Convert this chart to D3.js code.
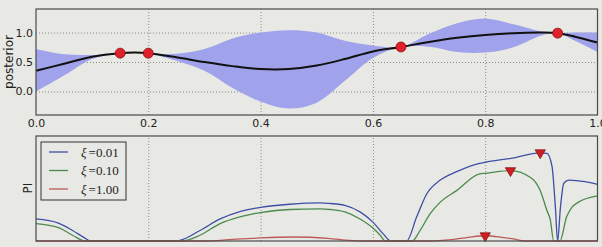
<!DOCTYPE html>
<html>
<head>
<meta charset="utf-8">
<script src="https://cdn.jsdelivr.net/npm/d3@7"></script>
<style>
body { margin: 0; background: #e8e9e4; }
svg { display: block; font-family: "DejaVu Sans", sans-serif; }
</style>
</head>
<body>
<div id="chart"></div>
<script>
// top panel: GP posterior
var postX     = [0, 0.05, 0.1, 0.15, 0.175, 0.2, 0.25, 0.3, 0.35, 0.4, 0.45, 0.5, 0.55, 0.6, 0.65, 0.7, 0.75, 0.8, 0.85, 0.9, 0.929, 0.96, 1.0];
var postMean  = [0.35, 0.47, 0.59, 0.65, 0.66, 0.65, 0.58, 0.50, 0.43, 0.38, 0.38, 0.44, 0.55, 0.68, 0.755, 0.84, 0.91, 0.96, 0.99, 1.0, 0.99, 0.93, 0.83];
var postLower = [0.0, 0.27, 0.55, 0.65, 0.655, 0.65, 0.52, 0.35, 0.06, -0.17, -0.29, -0.19, 0.18, 0.57, 0.755, 0.76, 0.67, 0.66, 0.75, 0.95, 0.99, 0.86, 0.67];
var postUpper = [0.72, 0.63, 0.62, 0.65, 0.67, 0.65, 0.64, 0.72, 0.90, 1.00, 1.04, 1.00, 0.86, 0.78, 0.755, 0.98, 1.16, 1.24, 1.14, 1.02, 0.99, 1.00, 1.00];
var obsX = [0.15, 0.2, 0.65, 0.929];
var obsY = [0.65, 0.65, 0.755, 0.99];

// bottom panel: probability of improvement for three xi values
var xiLabels = ["0.01", "0.10", "1.00"];
var piX1 = [0, 0.04, 0.065, 0.085, 0.097, 0.25, 0.256, 0.292, 0.328, 0.363, 0.4, 0.452, 0.506, 0.524, 0.55, 0.577, 0.6, 0.618, 0.632, 0.66, 0.678, 0.696, 0.72, 0.749, 0.79, 0.8, 0.848, 0.898, 0.91, 0.919, 0.925, 0.929, 0.934, 0.94, 0.949, 0.978, 1.0];
var piY1 = [0.21, 0.17, 0.10, 0.035, 0, 0, 0.005, 0.10, 0.21, 0.28, 0.32, 0.35, 0.363, 0.357, 0.34, 0.277, 0.18, 0.07, 0, 0, 0.23, 0.45, 0.58, 0.66, 0.74, 0.75, 0.79, 0.84, 0.835, 0.71, 0.32, 0, 0.32, 0.55, 0.58, 0.565, 0.54];
var piX2 = [0, 0.04, 0.065, 0.087, 0.26, 0.292, 0.328, 0.363, 0.4, 0.452, 0.506, 0.524, 0.55, 0.577, 0.6, 0.613, 0.622, 0.67, 0.684, 0.702, 0.72, 0.749, 0.79, 0.8, 0.845, 0.882, 0.898, 0.91, 0.916, 0.922, 0.933, 0.945, 0.955, 0.966, 1.0];
var piY2 = [0.166, 0.128, 0.055, 0, 0, 0.055, 0.166, 0.23, 0.27, 0.30, 0.306, 0.30, 0.277, 0.21, 0.124, 0.055, 0, 0, 0.10, 0.26, 0.37, 0.48, 0.64, 0.645, 0.67, 0.60, 0.48, 0.29, 0.20, 0, 0, 0.23, 0.325, 0.37, 0.43];
var piX3 = [0, 0.3, 0.35, 0.4, 0.46, 0.52, 0.56, 0.58, 0.7, 0.74, 0.77, 0.8, 0.83, 0.85, 0.87, 1.0];
var piY3 = [0, 0, 0.015, 0.03, 0.038, 0.025, 0.005, 0, 0, 0.013, 0.035, 0.05, 0.035, 0.02, 0, 0];

var xTicks = [0, 0.2, 0.4, 0.6, 0.8, 1.0];
var yTicks = [0, 0.5, 1.0];

var W = 602, H = 247;
var left = 36, right = 597.5;
var top1 = 9, bot1 = 115;
var top2 = 136, bot2 = 241;

var bg = "#e8e9e4";
var lineColors = ["#3f4ea6", "#4a8a4c", "#bb5a5a"];

var svg = d3.select("#chart").append("svg")
  .attr("width", W)
  .attr("height", H);

svg.append("rect").attr("width", W).attr("height", H).attr("fill", bg);

var x = d3.scaleLinear().domain([0, 1]).range([left, right]);
var y1 = d3.scaleLinear().domain([-0.4, 1.4]).range([bot1, top1]);
var y2 = d3.scaleLinear().domain([0, 1]).range([bot2, top2]);

function styleGrid(g) {
  g.select(".domain").remove();
  g.selectAll(".tick line")
   .attr("stroke", "#8a8a8a")
   .attr("stroke-width", 1)
   .attr("stroke-dasharray", "1,2");
}

// ----- top panel -----
var topG = svg.append("g");

topG.append("g")
  .attr("transform", "translate(0," + bot1 + ")")
  .call(d3.axisBottom(x).tickValues([0.2, 0.4, 0.6, 0.8]).tickSize(-(bot1 - top1)).tickFormat(""))
  .call(styleGrid);

topG.append("g")
  .attr("transform", "translate(" + left + ",0)")
  .call(d3.axisLeft(y1).tickValues(yTicks).tickSize(-(right - left)).tickFormat(""))
  .call(styleGrid);

var post = postX.map(function (d, i) {
  return { x: d, m: postMean[i], lo: postLower[i], hi: postUpper[i] };
});

var smooth = d3.curveCatmullRom.alpha(0.5);

topG.append("path")
  .datum(post)
  .attr("fill", "#a0a2ec")
  .attr("d", d3.area()
    .curve(smooth)
    .x(function (d) { return x(d.x); })
    .y0(function (d) { return y1(d.lo); })
    .y1(function (d) { return y1(d.hi); }));

topG.append("path")
  .datum(post)
  .attr("fill", "none")
  .attr("stroke", "#111")
  .attr("stroke-width", 2)
  .attr("d", d3.line()
    .curve(smooth)
    .x(function (d) { return x(d.x); })
    .y(function (d) { return y1(d.m); }));

topG.selectAll("circle.obs")
  .data(obsX)
  .enter()
  .append("circle")
  .attr("class", "obs")
  .attr("cx", function (d) { return x(d); })
  .attr("cy", function (d, i) { return y1(obsY[i]); })
  .attr("r", 5)
  .attr("fill", "#e0202a")
  .attr("stroke", "#8a1010")
  .attr("stroke-width", 0.8);

topG.append("rect")
  .attr("x", left).attr("y", top1)
  .attr("width", right - left).attr("height", bot1 - top1)
  .attr("fill", "none")
  .attr("stroke", "#4a4a4a")
  .attr("stroke-width", 1.2);

// tick labels
var xl = topG.append("g")
  .attr("transform", "translate(0," + bot1 + ")")
  .call(d3.axisBottom(x).tickValues(xTicks).tickSize(0).tickPadding(4).tickFormat(d3.format(".1f")));
xl.select(".domain").remove();
xl.selectAll("text").attr("font-size", 11).attr("fill", "#222").attr("font-family", "DejaVu Sans");

var yl = topG.append("g")
  .attr("transform", "translate(" + left + ",0)")
  .call(d3.axisLeft(y1).tickValues(yTicks).tickSize(0).tickPadding(3).tickFormat(d3.format(".1f")));
yl.select(".domain").remove();
yl.selectAll("text").attr("font-size", 11).attr("fill", "#222").attr("font-family", "DejaVu Sans");

topG.append("text")
  .attr("transform", "translate(13," + ((top1 + bot1) / 2) + ") rotate(-90)")
  .attr("text-anchor", "middle")
  .attr("font-size", 12)
  .attr("fill", "#222")
  .text("posterior");

// ----- bottom panel -----
var botG = svg.append("g");

botG.append("g")
  .attr("transform", "translate(0," + bot2 + ")")
  .call(d3.axisBottom(x).tickValues([0.2, 0.4, 0.6, 0.8]).tickSize(-(bot2 - top2)).tickFormat(""))
  .call(styleGrid);

var series = [[piX1, piY1], [piX2, piY2], [piX3, piY3]];

var piLine = d3.line()
  .curve(d3.curveMonotoneX)
  .x(function (d) { return x(d[0]); })
  .y(function (d) { return y2(d[1]); });

series.forEach(function (s, k) {
  var pts = s[0].map(function (d, i) { return [d, s[1][i]]; });
  botG.append("path")
    .datum(pts)
    .attr("fill", "none")
    .attr("stroke", lineColors[k])
    .attr("stroke-width", 1.3)
    .attr("d", piLine);
});

// maxima markers
var tri = d3.symbol().type(d3.symbolTriangle).size(46);
series.forEach(function (s, k) {
  var i = d3.maxIndex(s[1]);
  botG.append("path")
    .attr("d", tri)
    .attr("transform", "translate(" + x(s[0][i]) + "," + y2(s[1][i]) + ") rotate(180)")
    .attr("fill", "#d01c22")
    .attr("stroke", "#7a0f10")
    .attr("stroke-width", 0.7);
});

botG.append("rect")
  .attr("x", left).attr("y", top2)
  .attr("width", right - left).attr("height", bot2 - top2)
  .attr("fill", "none")
  .attr("stroke", "#4a4a4a")
  .attr("stroke-width", 1.2);

botG.append("text")
  .attr("transform", "translate(32," + 188 + ") rotate(-90)")
  .attr("text-anchor", "middle")
  .attr("font-size", 12)
  .attr("fill", "#222")
  .text("PI");

// legend
var leg = botG.append("g").attr("transform", "translate(41,142)");
leg.append("rect")
  .attr("width", 85).attr("height", 58)
  .attr("fill", bg)
  .attr("stroke", "#333")
  .attr("stroke-width", 1);

xiLabels.forEach(function (lab, k) {
  var yy = 10 + k * 18.5;
  leg.append("line")
    .attr("x1", 8).attr("x2", 27)
    .attr("y1", yy).attr("y2", yy)
    .attr("stroke", lineColors[k])
    .attr("stroke-width", 1.3);
  var t = leg.append("text")
    .attr("x", 40).attr("y", yy + 4.5)
    .attr("font-family", "Liberation Serif, serif")
    .attr("font-size", 13)
    .attr("fill", "#222");
  t.append("tspan").attr("font-style", "italic").text("\u03be");
  t.append("tspan").attr("dx", 2).text("=" + lab);
});
</script>
</body>
</html>
